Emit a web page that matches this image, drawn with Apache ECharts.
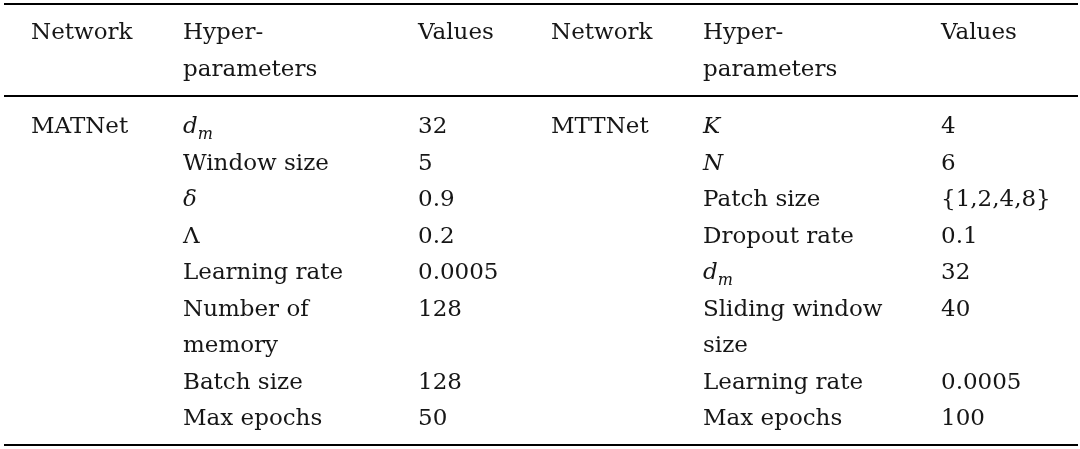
<!DOCTYPE html>
<html>
<head>
<meta charset="utf-8">
<script src="https://cdn.jsdelivr.net/npm/echarts@6/dist/echarts.min.js"></script>
<style>
  html, body { margin: 0; background: #fff; }
  #chart { width: 1080px; height: 449px; }
</style>
</head>
<body>
<div id="chart"></div>
<script>
// table content
const columnTitles = ['Network', 'Hyper-\nparameters', 'Values', 'Network', 'Hyper-\nparameters', 'Values'];
const networks = ['MATNet', 'MTTNet'];
const matnetParams = ['{i|d}{sub|m}', 'Window size', '{i|δ}', 'Λ', 'Learning rate', 'Number of\nmemory', 'Batch size', 'Max epochs'];
const matnetValues = ['32', '5', '0.9', '0.2', '0.0005', '128', '128', '50'];
const mttnetParams = ['{i|K}', '{i|N}', 'Patch size', 'Dropout rate', '{i|d}{sub|m}', 'Sliding window\nsize', 'Learning rate', 'Max epochs'];
const mttnetValues = ['4', '6', '{1,2,4,8}', '0.1', '32', '40', '0.0005', '100'];

// layout (x in px, y in text lines, body line 0 = first row)
const colX = [31, 183, 418, 551, 703, 941];
const tableLeft = 4;
const tableRight = 1078;
const LINE_PX = 36.5;
const FIRST_LINE_PX = 127.5;
const HEADER_LINE = -2.575;
const ruleLines = [-3.384, -0.863, 8.698];
const FONT = '"DejaVu Serif", serif';
const FONT_SIZE = 23;
const INK = '#161616';

const cellPos = [];
const cellTexts = [];
function addCell(col, line, text) {
  cellPos.push([col, line]);
  cellTexts.push(text);
}

columnTitles.forEach((t, i) => addCell(i, HEADER_LINE, t));
let line = 0;
matnetParams.forEach((p, r) => {
  if (r === 0) {
    addCell(0, line, networks[0]);
    addCell(3, line, networks[1]);
  }
  addCell(1, line, p);
  addCell(2, line, matnetValues[r]);
  addCell(4, line, mttnetParams[r]);
  addCell(5, line, mttnetValues[r]);
  line += Math.max(p.split('\n').length, mttnetParams[r].split('\n').length);
});

const chart = echarts.init(document.getElementById('chart'));

chart.setOption({
  animation: false,
  backgroundColor: '#fff',
  grid: { left: 0, right: 0, top: 0, bottom: 0 },
  xAxis: { type: 'value', min: 0, max: 1080, show: false },
  yAxis: {
    type: 'value',
    inverse: true,
    min: -FIRST_LINE_PX / LINE_PX,
    max: (449 - FIRST_LINE_PX) / LINE_PX,
    show: false
  },
  series: [
    {
      type: 'custom',
      name: 'cells',
      data: cellPos,
      renderItem: (params, api) => {
        const p = api.coord([colX[api.value(0)], api.value(1) - 0.5]);
        return {
          type: 'text',
          x: p[0],
          y: p[1],
          style: {
            text: cellTexts[params.dataIndex],
            fontFamily: FONT,
            fontSize: FONT_SIZE,
            fill: INK,
            align: 'left',
            verticalAlign: 'top',
            lineHeight: LINE_PX,
            rich: {
              i: { fontFamily: FONT, fontSize: FONT_SIZE, fontStyle: 'italic', fill: INK, lineHeight: LINE_PX },
              sub: { fontFamily: FONT, fontSize: 16, fontStyle: 'italic', fill: INK, padding: [14, 0, 0, 0] }
            }
          }
        };
      }
    },
    {
      type: 'custom',
      name: 'rules',
      data: ruleLines.map(v => [v]),
      renderItem: (params, api) => {
        const a = api.coord([tableLeft, api.value(0)]);
        const b = api.coord([tableRight, api.value(0)]);
        return {
          type: 'line',
          shape: { x1: a[0], y1: a[1], x2: b[0], y2: b[1] },
          style: { stroke: '#000', lineWidth: 2.2 }
        };
      }
    }
  ]
});
</script>
</body>
</html>
